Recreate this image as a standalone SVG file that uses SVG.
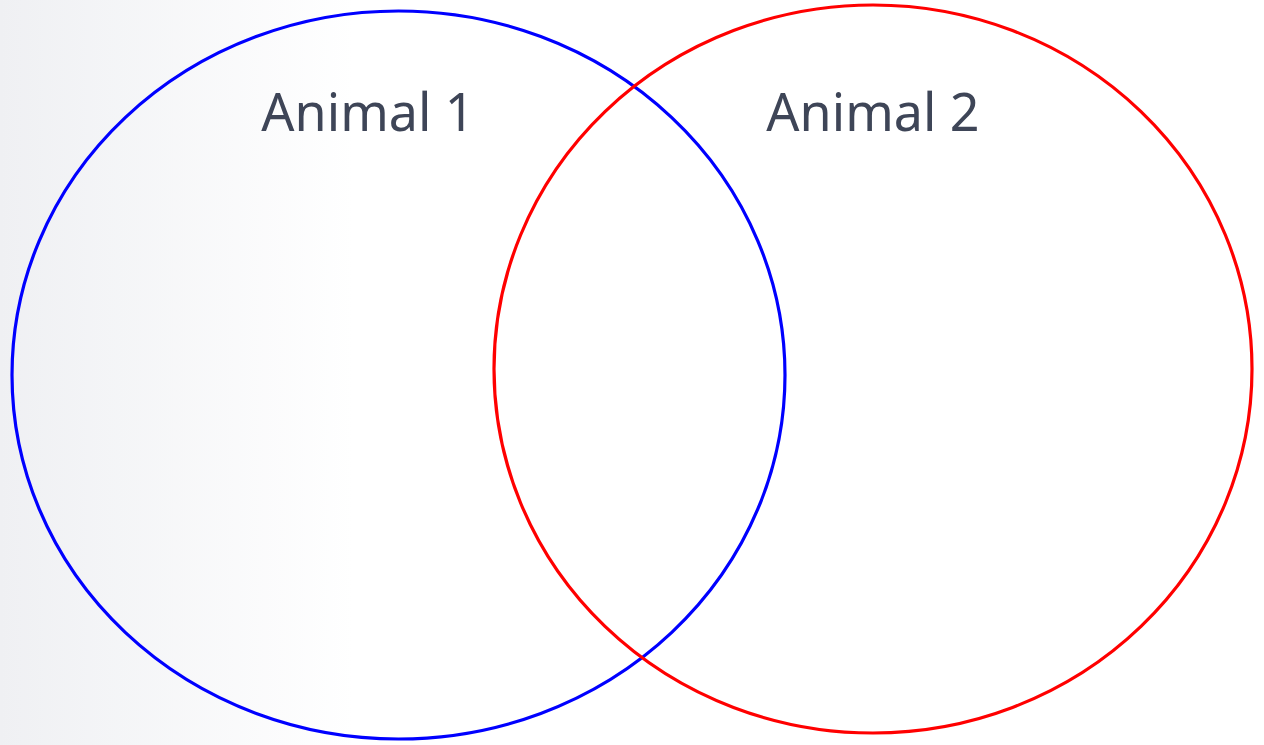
<svg xmlns="http://www.w3.org/2000/svg" width="1264" height="745" viewBox="0 0 1264 745">
  <defs>
    <linearGradient id="bg" x1="0" y1="0" x2="1264" y2="0" gradientUnits="userSpaceOnUse">
      <stop offset="0" stop-color="#eff0f3"/>
      <stop offset="0.28" stop-color="#ffffff"/>
      <stop offset="1" stop-color="#ffffff"/>
    </linearGradient>
    <style>
      .set { fill: none; stroke-width: 3.2; }
      .label { font-family: "Noto Sans", "Open Sans", sans-serif; font-size: 52px; fill: #3e4557; text-anchor: middle; }
    </style>
  </defs>
  <rect x="0" y="0" width="1264" height="745" fill="url(#bg)"/>
  <g id="animal-1">
    <ellipse class="set" cx="398.5" cy="375" rx="386.5" ry="364" stroke="#0000ff"/>
    <text class="label" x="368" y="131">Animal 1</text>
  </g>
  <g id="animal-2">
    <ellipse class="set" cx="873" cy="369" rx="379" ry="364" stroke="#ff0000"/>
    <text class="label" x="873" y="131">Animal 2</text>
  </g>
</svg>
